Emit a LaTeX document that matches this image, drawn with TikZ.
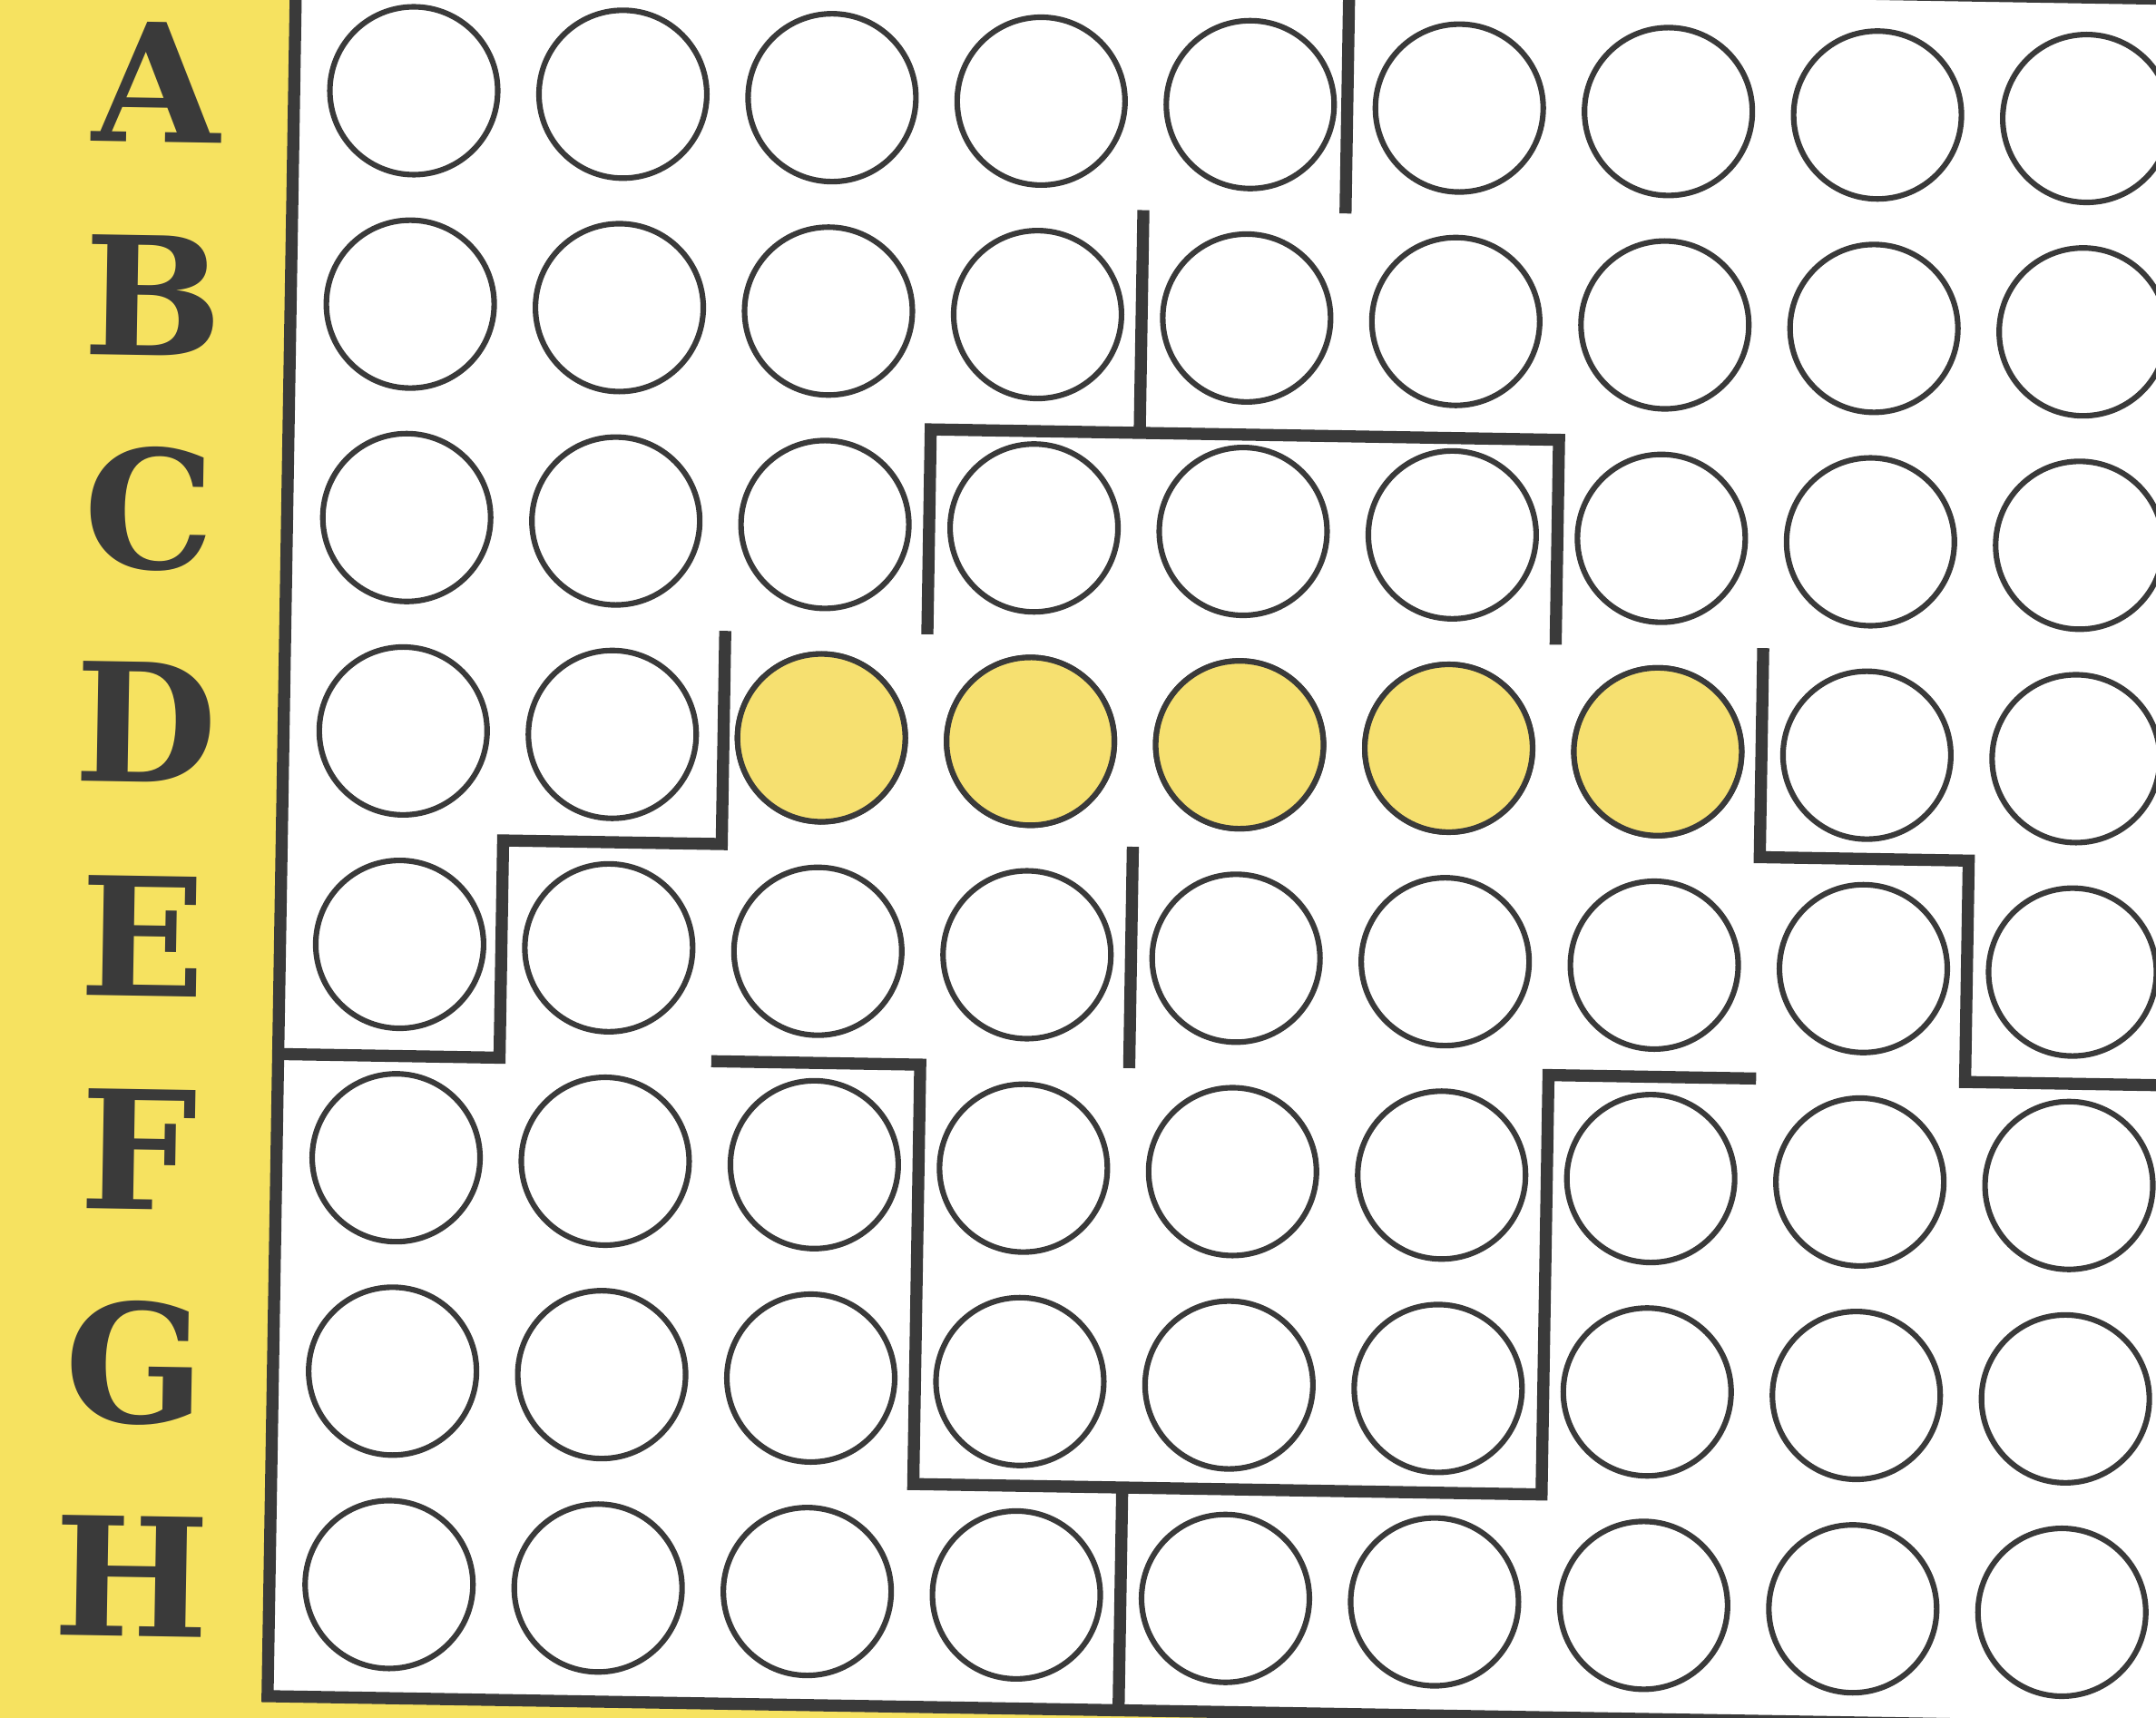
\documentclass[tikz,border=0pt]{standalone}
\usepackage{fontspec}
\setmainfont{DejaVu Serif}
\usepackage{tikz}
\usepackage{xcolor}

\definecolor{stripyellow}{RGB}{246,226,96}
\definecolor{pegyellow}{RGB}{246,224,112}
\definecolor{ink}{RGB}{58,58,58}

\begin{document}
\begin{tikzpicture}[x=0.01cm, y=-0.01cm,
    wall/.style={line width=2.5pt, draw=ink},
    hole/.style={circle, draw=ink, line width=1.15pt, fill=white, minimum size=1.22cm, inner sep=0pt},
    rowlabel/.style={font=\fontsize{34}{34}\selectfont\bfseries, text=ink, transform shape}]

		% Page frame and yellow strip
		\useasboundingbox (0,0) rectangle (1568,1249);
		\clip (0,0) rectangle (1568,1249);
		\fill[stripyellow] (0,0) rectangle (1568,1249);

		\begin{scope}[rotate=-0.95]

		% White board
		\fill[white] (215,-60) rectangle (1700,1230);

		% Row letters and the grid of holes
		\foreach \row [count=\ri from 0] in {A,B,C,D,E,F,G,H} {
			\node[rowlabel] (lbl\row) at (115, 58+155.2*\ri) {\row};
			\foreach \col in {1,...,9}
				\node[hole] (\row\col) at (302+152.1*\col-152.1, 61+155.2*\ri) {};
		}

		% Filled holes in row D
		\foreach \col in {3,...,7}
			\filldraw[fill=pegyellow, draw=ink, line width=1.15pt] (D\col.center) circle (61);

		% Outer border
		\draw[wall] (1700,-27) -- (215,-27) -- (215,1230) -- (1700,1230);

		% Walls in the upper half
		\draw[wall] (981,-40) -- (981,139); % between A5 and A6
		\draw[wall] (834,139) -- (834,301); % between B4 and B5
		\draw[wall] (682,450) -- (682,301) -- (1139,301) -- (1139,450); % bar above row C
		\draw[wall] (535,450) -- (535,605) -- (376,605) -- (376,763) -- (215,763); % left steps
		\draw[wall] (1290,450) -- (1290,602) -- (1442,602) -- (1442,763) -- (1700,763); % right steps
		\draw[wall] (834,602) -- (834,763); % between E4 and E5

		% Walls in the lower half
		\draw[wall] (530,763) -- (682,763) -- (682,1068) -- (1139,1068) -- (1139,763) -- (1290,763); % cup
		\draw[wall] (834,1068) -- (834,1230); % between H4 and H5

		\end{scope}
	\end{tikzpicture}
\end{document}
